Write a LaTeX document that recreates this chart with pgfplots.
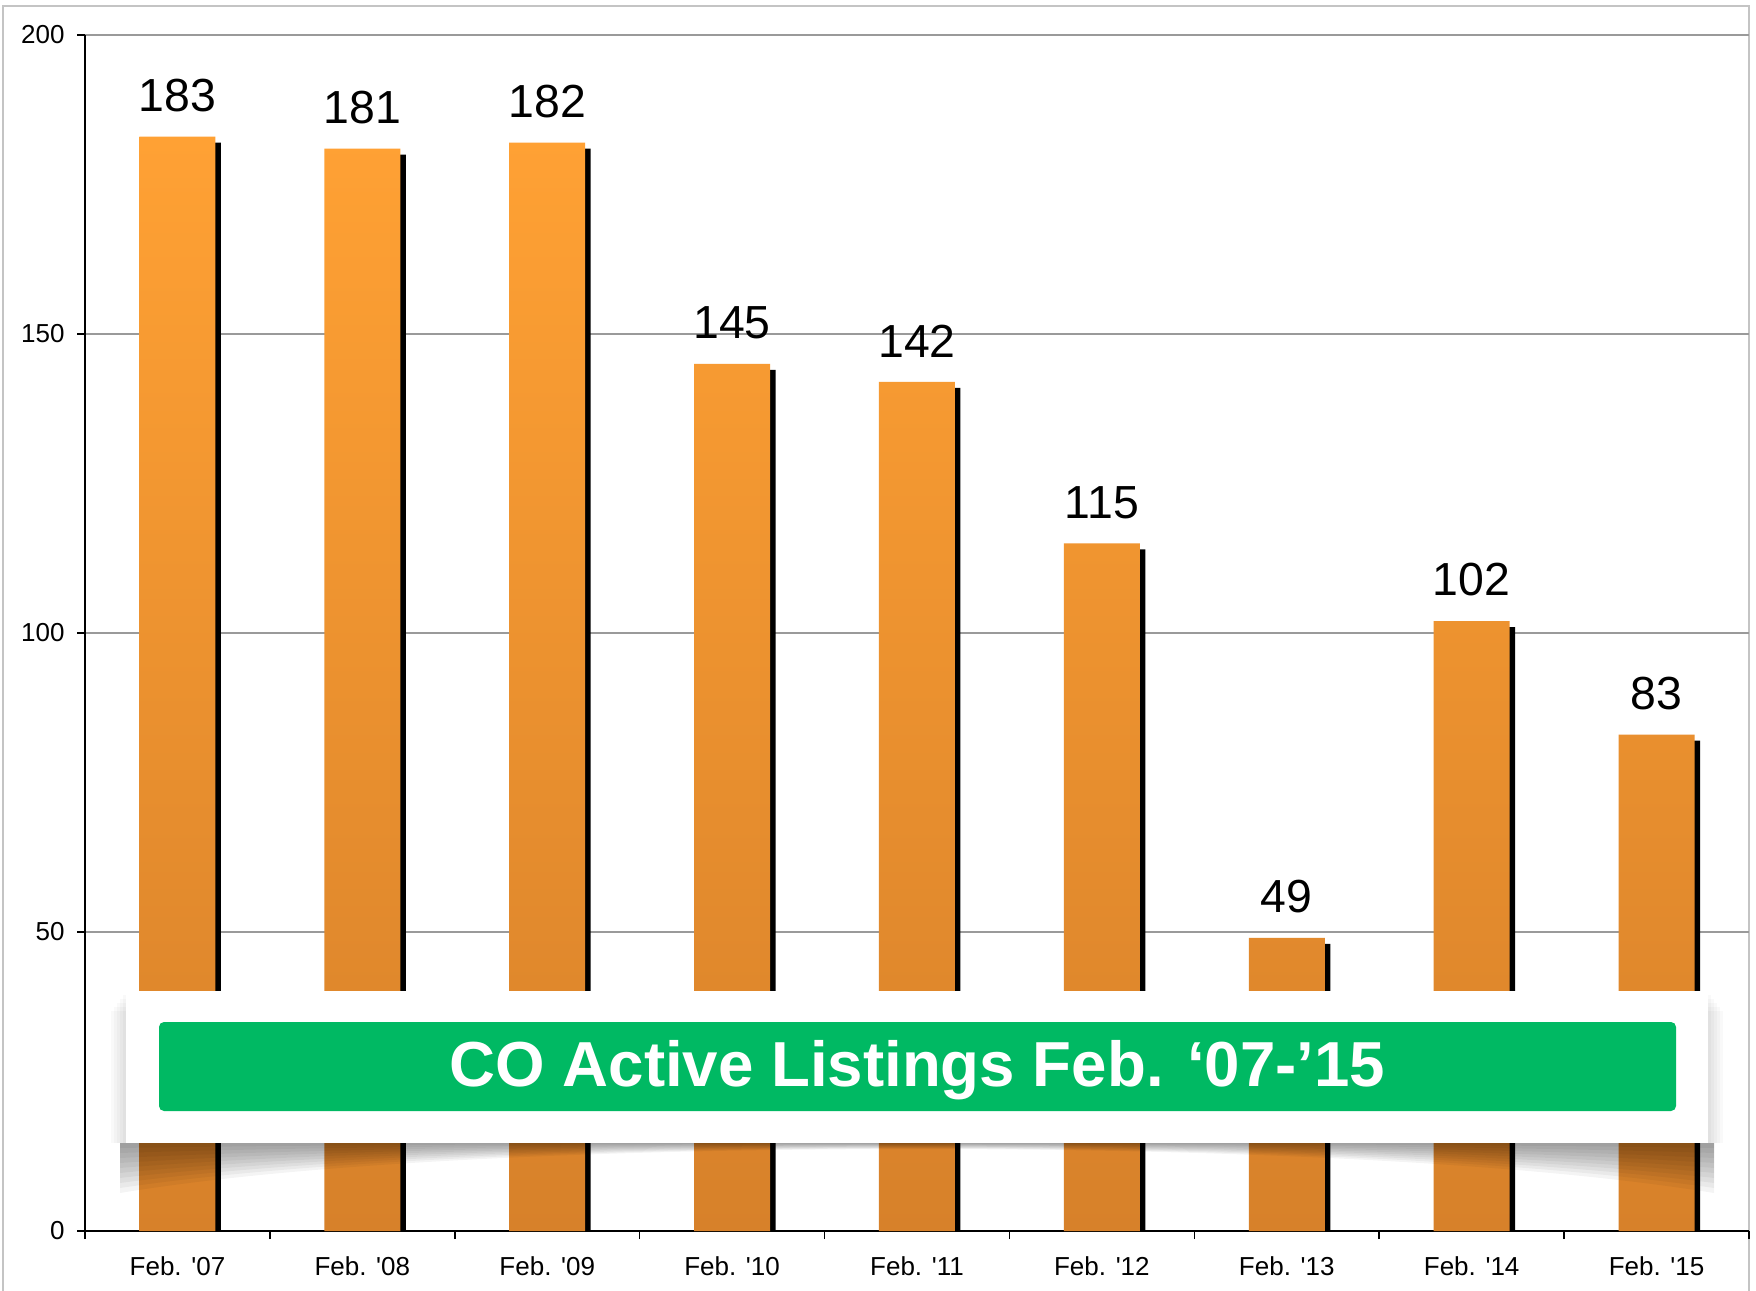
\documentclass[border=0pt]{standalone}
\usepackage{pgfplots}
\pgfplotsset{compat=1.18}
\usepackage{fontspec}
\setmainfont{Liberation Sans}
\definecolor{barTop}{HTML}{FFA134}
\definecolor{barBot}{HTML}{D7812A}
\definecolor{gridgray}{HTML}{9A9A9A}
\definecolor{frameg}{HTML}{C4C4C4}
\definecolor{bannergreen}{HTML}{00B963}
\begin{document}
\begin{tikzpicture}
\useasboundingbox (0,0) rectangle (175.6mm,129mm);
\fill[white] (0,0) rectangle (175.6mm,129mm);
\draw[frameg, line width=0.2mm] (0.3mm,-1mm) -- (0.3mm,128.4mm) -- (174.9mm,128.4mm) -- (174.9mm,-1mm);
\begin{axis}[
  at={(8.5mm,5.9mm)}, anchor=south west,
  scale only axis, width=166.4mm, height=119.6mm,
  xmin=-0.5, xmax=8.5, ymin=0, ymax=200,
  axis x line*=bottom, axis y line*=left,
  axis line style={black, line width=0.2mm, -},
  ytick={0,50,100,150,200},
  ymajorgrids, grid style={color=gridgray, line width=0.2mm},
  xtick={-0.5,0.5,...,8.5}, xticklabels={},
  extra x ticks={0,1,2,3,4,5,6,7,8},
  extra x tick labels={Feb. \textquotesingle 07,Feb. \textquotesingle 08,Feb. \textquotesingle 09,Feb. \textquotesingle 10,Feb. \textquotesingle 11,Feb. \textquotesingle 12,Feb. \textquotesingle 13,Feb. \textquotesingle 14,Feb. \textquotesingle 15},
  extra x tick style={major tick length=0pt, xticklabel style={yshift=-1.3mm}},
  tick align=outside, major tick length=0.8mm,
  tick style={black, line width=0.15mm},
  ticklabel style={font=\fontsize{7.4}{9}\selectfont},
  /pgf/number format/assume math mode=true,
]
% bar shadows
\addplot[ybar, bar width=7.6mm, bar shift=0.55mm, draw=none, fill=black, yshift=-0.6mm]
  coordinates {(0,183) (1,181) (2,182) (3,145) (4,142) (5,115) (6,49) (7,102) (8,83)};
\addplot[ybar, bar width=7.6mm, bar shift=0mm, draw=none, top color=barTop, bottom color=barBot]
  coordinates {(0,183) (1,181) (2,182) (3,145) (4,142) (5,115) (6,49) (7,102) (8,83)};
\addplot[draw=none, mark=none, nodes near coords,
  every node near coord/.append style={anchor=south, inner sep=0pt, yshift=2.4mm, text=black, font=\fontsize{13.2}{14}\selectfont}]
  coordinates {(0,183) (1,181) (2,182) (3,145) (4,142) (5,115) (6,49) (7,102) (8,83)};
\end{axis}
% banner shadow
\foreach \f in {0.1,0.2,...,1.0} {
  \fill[black, opacity=0.042] (12.0mm,14.7mm) -- (12.0mm,{14.7mm-5mm*\f}) .. controls (30mm,{14.7mm-2mm*\f}) and (60mm,{14.7mm-0.6mm*\f}) .. (91.7mm,{14.7mm-0.6mm*\f}) .. controls (123mm,{14.7mm-0.6mm*\f}) and (153mm,{14.7mm-2mm*\f}) .. (171.4mm,{14.7mm-5mm*\f}) -- (171.4mm,14.7mm) -- cycle;
}
\foreach \i in {1,...,5} {
  \fill[black, opacity=0.025] ({12.6mm-0.3mm*\i},{14.7mm}) rectangle ({170.8mm+0.3mm*\i},{29.9mm-0.4mm*\i});
}
\fill[white] (12.6mm,14.7mm) rectangle (170.8mm,29.9mm);
\fill[bannergreen, rounded corners=0.5mm] (15.9mm,17.9mm) rectangle (167.6mm,26.8mm);
\node[white, anchor=base, inner sep=0pt, font=\bfseries\fontsize{18.1}{20}\selectfont] at (91.75mm,20.4mm) {CO Active Listings Feb. ‘07-’15};
\end{tikzpicture}
\end{document}
